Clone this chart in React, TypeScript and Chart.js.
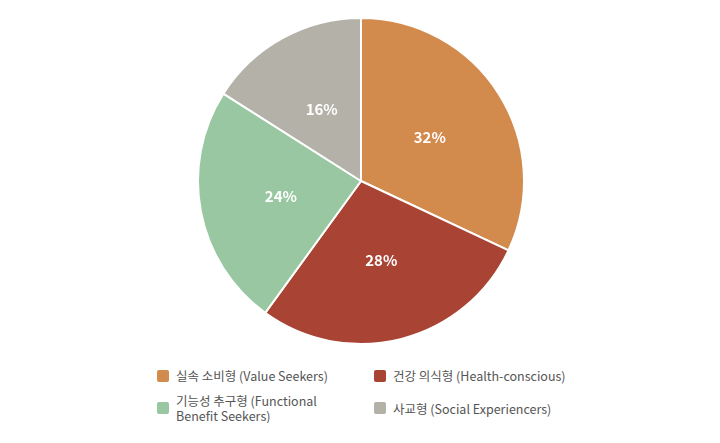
import React, { useEffect, useRef } from "react";
import { Chart, registerables } from "chart.js";

Chart.register(...registerables);

const categories = [
  "실속 소비형 (Value Seekers)",
  "건강 의식형 (Health-conscious)",
  "기능성 추구형 (Functional Benefit Seekers)",
  "사교형 (Social Experiencers)",
];
const values = [32, 28, 24, 16];
const colors = ["#D38A4D", "#A94334", "#98C7A1", "#B3B1A8"];
const legendOrder = [0, 1, 2, 3];

const labelPlugin = {
  id: "sliceLabels",
  afterDatasetsDraw(chart: any) {
    const ctx = chart.ctx;
    const meta = chart.getDatasetMeta(0);
    ctx.save();
    ctx.fillStyle = "#ffffff";
    ctx.font = "bold 15px 'Noto Sans CJK KR', 'Noto Sans', sans-serif";
    ctx.textAlign = "center";
    ctx.textBaseline = "middle";
    meta.data.forEach((arc: any, i: number) => {
      const p = arc.tooltipPosition();
      ctx.fillText(values[i] + "%", p.x, p.y);
    });
    ctx.restore();
  },
};

export default function App() {
  const ref = useRef<HTMLCanvasElement>(null);
  useEffect(() => {
    const chart = new Chart(ref.current!, {
      type: "pie",
      data: {
        labels: categories,
        datasets: [
          {
            data: values,
            backgroundColor: colors,
            borderColor: "#ffffff",
            borderWidth: 2,
          },
        ],
      },
      options: {
        animation: false,
        responsive: true,
        maintainAspectRatio: false,
        layout: { padding: { top: 9, bottom: 9 } },
        plugins: {
          legend: { display: false },
          tooltip: { enabled: false },
        },
      },
      plugins: [labelPlugin],
    });
    return () => chart.destroy();
  }, []);

  const font = "'Noto Sans CJK KR', 'Noto Sans', sans-serif";
  return (
    <div style={{ width: 706, fontFamily: font }}>
      <div style={{ position: "relative", width: 706, height: 346 }}>
        <canvas ref={ref} />
      </div>
      <div
        style={{
          display: "grid",
          gridTemplateColumns: "217px 220px",
          marginLeft: 149,
          rowGap: 10,
          marginTop: 14,
          alignItems: "center",
        }}
      >
        {legendOrder.map((i, k) => (
          <div key={i} style={{ display: "flex", alignItems: "center" }}>
            <span
              style={{
                width: 12,
                height: 12,
                borderRadius: 2,
                background: colors[i],
                marginRight: 7,
                flex: "0 0 auto",
              }}
            />
            <span
              style={{
                fontSize: 12.5,
                color: "#555555",
                lineHeight: "15px",
                maxWidth: k % 2 === 0 ? 165 : 210,
              }}
            >
              {categories[i]}
            </span>
          </div>
        ))}
      </div>
    </div>
  );
}
